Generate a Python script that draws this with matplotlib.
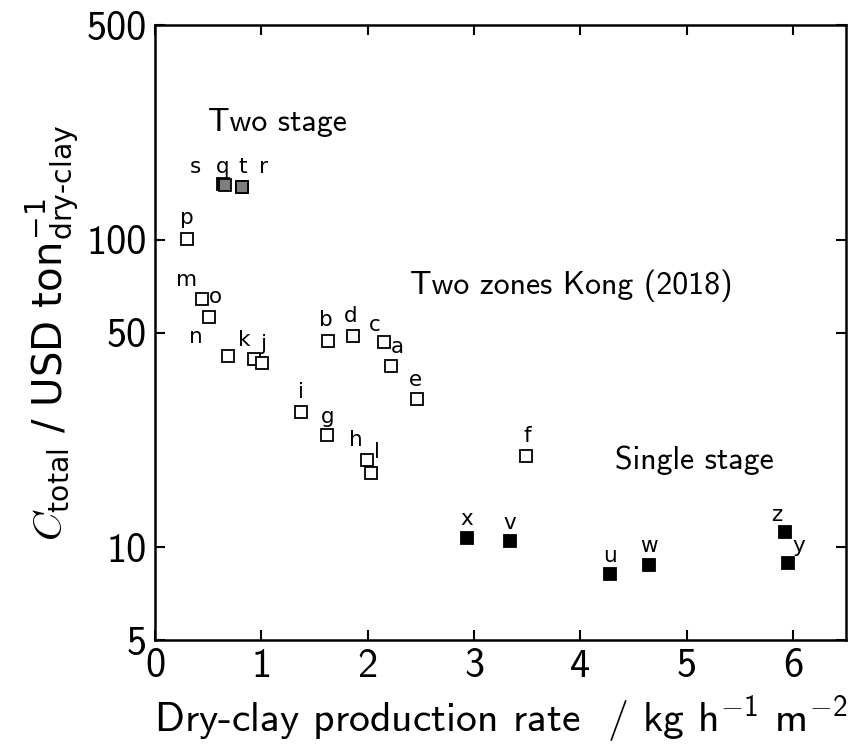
import matplotlib
matplotlib.use("Agg")
import matplotlib.pyplot as plt
from matplotlib.ticker import FixedLocator, NullLocator, FixedFormatter

plt.rcParams['font.family'] = ['cmss10', 'DejaVu Sans']
plt.rcParams['mathtext.fontset'] = 'custom'
plt.rcParams['mathtext.rm'] = 'DejaVu Sans'
plt.rcParams['mathtext.it'] = 'cmmi10'
plt.rcParams['mathtext.sf'] = 'cmss10'
plt.rcParams['axes.unicode_minus'] = False

# ---- data ----
open_labels = ['p', 'm', 'o', 'n', 'k', 'j', 'b', 'd', 'c', 'a', 'e', 'i', 'g', 'h', 'l', 'f']
open_x = [0.30, 0.44, 0.51, 0.69, 0.93, 1.01, 1.63, 1.86, 2.15, 2.22, 2.46, 1.37, 1.62, 1.99, 2.03, 3.49]
open_y = [100.5, 64.3, 56.1, 41.9, 40.9, 39.7, 46.9, 48.7, 46.5, 38.9, 30.5, 27.5, 23.2, 19.2, 17.5, 19.8]

gray_labels = ['s', 'q', 't', 'r']
gray_x = [0.64, 0.655, 0.815, 0.82]
gray_y = [152, 151, 149, 149]

black_labels = ['x', 'v', 'u', 'w', 'z', 'y']
black_x = [2.93, 3.34, 4.28, 4.65, 5.93, 5.95]
black_y = [10.7, 10.5, 8.17, 8.8, 11.2, 8.9]

x_ticks = [0, 1, 2, 3, 4, 5, 6]
y_ticks = [5, 10, 50, 100, 500]
y_ticklabels = ['5', '10', '50', '100', '500']

# label offsets in pixels (dx, dy)
offsets = {
    'p': (0, 21), 'm': (-15, 19), 'o': (6, 20), 'n': (-33, 19), 'k': (-10, 19),
    'j': (1, 19), 'b': (-2, 21), 'd': (-2, 20), 'c': (-9, 17), 'a': (6, 19),
    'e': (-1, 19), 'i': (0, 20), 'g': (0, 18), 'h': (-11, 20), 'l': (6, 21),
    'f': (1, 20), 's': (-28, 17), 'q': (-2, 18), 't': (1, 20), 'r': (21, 20),
    'x': (0, 19), 'v': (0, 18), 'u': (0, 18), 'w': (0, 19), 'z': (-9, 17), 'y': (11, 17),
}

fig = plt.figure(figsize=(8.52, 7.49), dpi=100)
ax = fig.add_axes([0.182, 0.1455, 0.811, 0.821])

ms = 8.8
mew = 1.3
ax.plot(open_x, open_y, 's', ms=ms, mfc='white', mec='black', mew=mew, ls='none', zorder=3)
ax.plot(gray_x, gray_y, 's', ms=ms, mfc='#7f7f7f', mec='black', mew=mew, ls='none', zorder=3)
ax.plot(black_x, black_y, 's', ms=ms, mfc='black', mec='black', mew=mew, ls='none', zorder=3)

for labs, xs, ys in [(open_labels, open_x, open_y), (gray_labels, gray_x, gray_y),
                     (black_labels, black_x, black_y)]:
    for lab, xv, yv in zip(labs, xs, ys):
        dx, dy = offsets[lab]
        ax.annotate(lab, (xv, yv), xytext=(dx, dy), textcoords='offset pixels',
                    ha='center', va='center', fontsize=15.5, family='DejaVu Sans')

ax.set_yscale('log')
ax.set_xlim(0, 6.5)
ax.set_ylim(5, 500)
ax.xaxis.set_major_locator(FixedLocator(x_ticks))
ax.yaxis.set_major_locator(FixedLocator(y_ticks))
ax.yaxis.set_major_formatter(FixedFormatter(y_ticklabels))
ax.yaxis.set_minor_locator(NullLocator())
ax.xaxis.set_minor_locator(NullLocator())
ax.tick_params(direction='in', length=7, width=1.5, top=True, right=True,
               labelsize=29, pad=6)
for s in ax.spines.values():
    s.set_linewidth(1.8)

ax.text(0.077, 0.841, 'Two stage', transform=ax.transAxes, fontsize=23,
        ha='left', va='center')
ax.text(0.369, 0.576, 'Two zones Kong (2018)', transform=ax.transAxes, fontsize=23,
        ha='left', va='center')
ax.text(0.666, 0.293, 'Single stage', transform=ax.transAxes, fontsize=23,
        ha='left', va='center')

ax.set_xlabel(r'Dry-clay production rate  / kg h$^{\mathsf{-1}}$ m$^{\mathsf{-2}}$',
              fontsize=30, labelpad=6)
ax.set_ylabel(r'$C_{\mathrm{total}}$ / USD ton$^{-1}_{\mathrm{dry\text{-}clay}}$',
              fontsize=29, family='DejaVu Sans', labelpad=4)

fig.savefig('out.png', dpi=100)
